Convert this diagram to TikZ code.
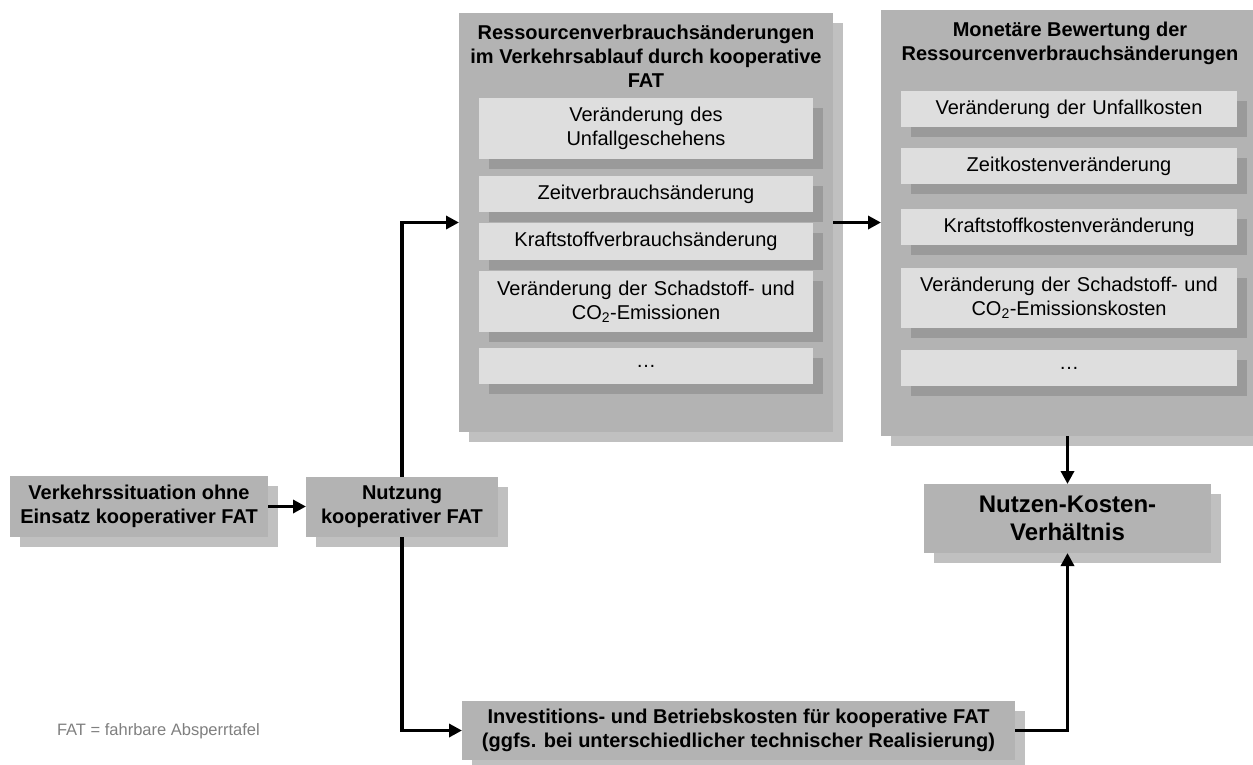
\documentclass[tikz,border=0pt]{standalone}
\usepackage{fontspec}
\setmainfont{Liberation Sans}
\usepackage{tikz}
\usetikzlibrary{arrows.meta,shadows}
\definecolor{boxgray}{HTML}{B3B3B3}
\definecolor{boxshade}{HTML}{C0C0C0}
\definecolor{entrygray}{HTML}{DEDEDE}
\definecolor{entryshade}{HTML}{9A9A9A}
\definecolor{notegray}{HTML}{7F7F7F}

\begin{document}
\begin{tikzpicture}[x=1pt,y=-1pt]
            \tikzstyle{every node}+=[inner sep=0pt,outer sep=0pt]
            \tikzstyle{panel}=[fill=boxgray,drop shadow={shadow xshift=10pt,shadow yshift=-10pt,fill=boxshade,opacity=1}]
            \tikzstyle{entry}=[fill=entrygray,minimum width=334pt,text width=334pt,align=center,font=\fontsize{20pt}{24pt}\selectfont,drop shadow={shadow xshift=10pt,shadow yshift=-10pt,fill=entryshade,opacity=1}]
            \tikzstyle{heading}=[align=center,font=\fontsize{20pt}{24pt}\selectfont\bfseries]
            \tikzstyle{flow}=[black,line width=3.6pt,-{Triangle[length=13pt,width=13pt]}]
            \useasboundingbox (0,0) rectangle (1253,764);
            \node [panel,heading,minimum width=258pt,minimum height=61pt] (vks) at (139,506.5) {Verkehrssituation ohne\\Einsatz kooperativer FAT};
            \node [panel,heading,minimum width=192pt,minimum height=60pt] (nutz) at (402,507) {Nutzung\\kooperativer FAT};
            \node [panel,minimum width=374pt,minimum height=419pt] (res) at (646,222.5) {};
            \node [heading,anchor=north] (res-title) at (646,25) {Ressourcenverbrauchsänderungen\\im Verkehrsablauf durch kooperative\\FAT};
            \node [entry,minimum height=61pt] (r1) at (646,128.5) {Veränderung des\\Unfallgeschehens};
            \node [entry,minimum height=36pt] (r2) at (646,194) {Zeitverbrauchsänderung};
            \node [entry,minimum height=37pt] (r3) at (646,241.5) {Kraftstoffverbrauchsänderung};
            \node [entry,minimum height=61pt] (r4) at (646,301.5) {Veränderung der Schadstoff- und\\CO\textsubscript{2}-Emissionen};
            \node [entry,minimum height=36pt] (r5) at (646,366) {\dots};
            \node [panel,minimum width=382pt,minimum height=426pt] (mon) at (1072,223) {};
            \node [heading,anchor=north] (mon-title) at (1070,22) {Monetäre Bewertung der\\Ressourcenverbrauchsänderungen};
            \node [entry,minimum width=336pt,text width=336pt,minimum height=36pt] (m1) at (1069,109) {Veränderung der Unfallkosten};
            \node [entry,minimum width=336pt,text width=336pt,minimum height=36pt] (m2) at (1069,166) {Zeitkostenveränderung};
            \node [entry,minimum width=336pt,text width=336pt,minimum height=36pt] (m3) at (1069,227) {Kraftstoffkostenveränderung};
            \node [entry,minimum width=336pt,text width=336pt,minimum height=60pt] (m4) at (1069,298) {Veränderung der Schadstoff- und\\CO\textsubscript{2}-Emissionskosten};
            \node [entry,minimum width=336pt,text width=336pt,minimum height=36pt] (m5) at (1069,368) {\dots};
            \node [panel,heading,font=\fontsize{24pt}{28pt}\selectfont\bfseries,minimum width=287pt,minimum height=69pt] (nkv) at (1067.5,518.5) {Nutzen-Kosten-\\Verhältnis};
            \node [panel,heading,minimum width=553pt,minimum height=59pt] (inv) at (738.5,730.5) {Investitions- und Betriebskosten für kooperative FAT\\(ggfs. bei unterschiedlicher technischer Realisierung)};
            \node [anchor=base west,text=notegray,font=\fontsize{16.5pt}{20pt}\selectfont] (note) at (57,735) {FAT = fahrbare Absperrtafel};
            \draw [flow] (vks.east) -- (vks.east -| nutz.west);
            \draw [flow] (nutz.north) |- (res.west);
            \draw [flow] (nutz.south) |- (inv.west);
            \draw [flow] (res.east) -- (res.east -| mon.west);
            \draw [flow] (mon.south -| nkv.north) -- (nkv.north);
            \draw [flow] (inv.east) -| (nkv.south);
\end{tikzpicture}
\end{document}
